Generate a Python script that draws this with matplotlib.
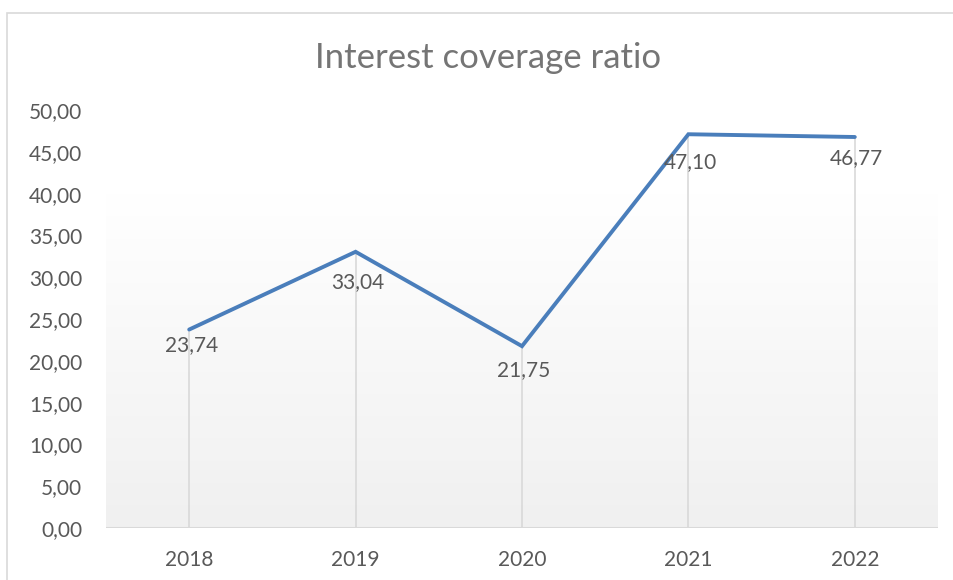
import numpy as np
import matplotlib.pyplot as plt
from matplotlib.colors import LinearSegmentedColormap
from matplotlib.patches import Rectangle

years = ['2018', '2019', '2020', '2021', '2022']
ratio = [23.74, 33.04, 21.75, 47.10, 46.77]
y_ticks = [0, 5, 10, 15, 20, 25, 30, 35, 40, 45, 50]

# how far (pt) each value label sits below its point
label_drop = [4, 14.8, 9.7, 12.6, 8.3]

plt.rcParams['font.family'] = ['Lato', 'DejaVu Sans']

W, H = 954, 580
fig = plt.figure(figsize=(W / 100, H / 100), dpi=100)
fig.patch.set_facecolor('white')

# chart frame
fig.patches.append(Rectangle((7 / W, -0.1), 1.2, (H - 13) / H + 0.1,
                             transform=fig.transFigure, fill=False,
                             edgecolor='#d9d9d9', linewidth=1.2))

ax = fig.add_axes([106 / W, 52 / H, (938 - 106) / W, (528 - 110) / H])
x = np.arange(len(years))
ax.set_xlim(-0.5, len(years) - 0.5)
ax.set_ylim(0, 50)

# soft vertical gradient behind the plot area
grad = np.linspace(0, 1, 256).reshape(-1, 1)
bg = LinearSegmentedColormap.from_list(
    'bg', [(0, '#f0f0f0'), (0.8, '#ffffff'), (1, '#ffffff')])
ax.imshow(grad, extent=[-0.5, len(years) - 0.5, 0, 50], aspect='auto',
          cmap=bg, origin='lower', zorder=0)

# drop lines
ax.vlines(x, 0, ratio, colors='#d9d9d9', linewidth=1.2, zorder=1)
ax.axhline(0, color='#d9d9d9', linewidth=1.5, zorder=1)

ax.plot(x, ratio, color='#4a7ebb', linewidth=2.8, solid_capstyle='round',
        solid_joinstyle='miter', zorder=3)

for xi, v, d in zip(x, ratio, label_drop):
    ax.annotate(f'{v:.2f}'.replace('.', ','), (xi, v), xytext=(1.5, -d),
                textcoords='offset points', ha='center', va='top',
                fontsize=15, color='#595959', zorder=4)

ax.set_xticks(x)
ax.set_xticklabels(years)
ax.set_yticks(y_ticks)
ax.set_yticklabels([f'{t:.2f}'.replace('.', ',') for t in y_ticks])
ax.tick_params(length=0, labelsize=15, labelcolor='#595959')
ax.tick_params(axis='x', pad=16)
ax.tick_params(axis='y', pad=17)
for s in ax.spines.values():
    s.set_visible(False)

fig.text((313 + 663) / 2 / W, 1 - 58 / H, 'Interest coverage ratio',
         ha='center', va='center', fontsize=25, color='#757575')

fig.savefig('out.png', dpi=100)
